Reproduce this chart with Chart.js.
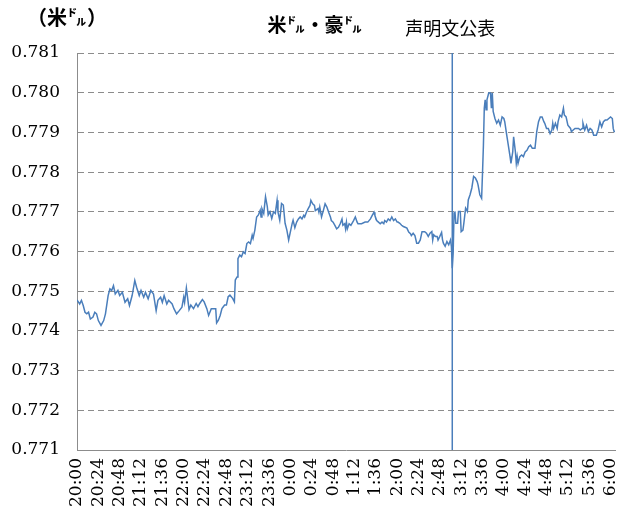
<!DOCTYPE html>
<html>
<head>
<meta charset="utf-8">
<script src="https://cdn.jsdelivr.net/npm/chart.js@4"></script>
<style>
body { margin: 0; background: #fff; }
#wrap { width: 628px; height: 530px; position: relative; }
</style>
</head>
<body>
<div id="wrap"><canvas id="fx"></canvas></div>
<script>
// minutes after 20:00, and USD per AUD
const minutes = [0,3,5,7,9,11,13,15,18,20,22,24,27,30,32,35,37,39,41,43,46,48,51,54,57,59,62,65,67,70,72,75,77,80,83,86,89,91,94,96,98,101,103,107,109,112,115,118,120,121,123,126,128,131,134,136,138,141,143,146,148,151,153,156,157,159,161,163,166,168,170,172,175,177,178,180,181,183,185,187,189,191,193,195,197,198,200,202,204,206,207,208,210,212,214,215,217,219,221,223,225,226,228,230,232,234,236,238,240,242,243,245,247,249,251,253,255,256,258,260,262,263,265,267,268,271,272,273,275,277,279,281,283,285,286,288,290,292,294,296,298,299,301,302,303,304,306,308,311,313,315,316,320,324,327,330,332,334,335,337,339,341,343,345,346,348,350,352,354,356,358,360,361,363,365,367,369,371,373,375,376,378,380,382,384,386,388,391,393,395,397,399,400,401,403,405,406,408,410,411,412,414,416,418,420,421,422,423,424,425,426,428,429,431,432,434,435,437,439,440,442,444,446,448,450,451,453,455,456,457,458,459,460,461,463,465,466,467,468,470,472,474,476,478,480,481,483,485,487,488,490,491,493,494,495,496,498,500,502,504,506,508,510,512,513,515,517,519,521,523,525,526,528,530,532,534,535,536,538,540,541,543,545,547,548,550,552,555,556,558,560,564,566,568,569,571,573,575,577,579,581,583,584,586,588,590,592,594,596,598,600,602,603,604,605];
const rates = [0.77478,0.77468,0.77477,0.77464,0.77447,0.77443,0.77447,0.77430,0.77435,0.77447,0.77443,0.77426,0.77414,0.77426,0.77443,0.77489,0.77506,0.77502,0.77514,0.77493,0.77502,0.77489,0.77497,0.77472,0.77481,0.77464,0.77489,0.77527,0.77510,0.77489,0.77502,0.77485,0.77497,0.77481,0.77502,0.77493,0.77451,0.77477,0.77485,0.77472,0.77489,0.77468,0.77477,0.77468,0.77456,0.77443,0.77451,0.77460,0.77485,0.77472,0.77508,0.77454,0.77465,0.77456,0.77469,0.77461,0.77469,0.77479,0.77473,0.77456,0.77439,0.77456,0.77456,0.77456,0.77420,0.77427,0.77439,0.77456,0.77465,0.77465,0.77486,0.77490,0.77482,0.77473,0.77528,0.77536,0.77582,0.77591,0.77587,0.77599,0.77595,0.77620,0.77624,0.77620,0.77641,0.77633,0.77654,0.77687,0.77692,0.77704,0.77687,0.77708,0.77696,0.77738,0.77713,0.77692,0.77700,0.77683,0.77700,0.77696,0.77729,0.77700,0.77679,0.77721,0.77717,0.77671,0.77654,0.77629,0.77650,0.77671,0.77679,0.77660,0.77674,0.77682,0.77687,0.77682,0.77691,0.77687,0.77699,0.77708,0.77716,0.77729,0.77720,0.77716,0.77703,0.77708,0.77699,0.77712,0.77687,0.77703,0.77720,0.77712,0.77699,0.77687,0.77678,0.77674,0.77666,0.77657,0.77661,0.77670,0.77682,0.77666,0.77670,0.77657,0.77674,0.77657,0.77670,0.77666,0.77678,0.77687,0.77674,0.77670,0.77670,0.77674,0.77674,0.77682,0.77691,0.77699,0.77691,0.77678,0.77674,0.77670,0.77674,0.77670,0.77678,0.77674,0.77682,0.77678,0.77687,0.77678,0.77682,0.77674,0.77674,0.77671,0.77666,0.77663,0.77661,0.77659,0.77649,0.77645,0.77640,0.77646,0.77640,0.77621,0.77621,0.77629,0.77650,0.77650,0.77646,0.77638,0.77646,0.77650,0.77629,0.77642,0.77638,0.77638,0.77629,0.77638,0.77648,0.77630,0.77621,0.77613,0.77625,0.77617,0.77629,0.77613,0.77558,0.77595,0.77697,0.77701,0.77671,0.77671,0.77701,0.77701,0.77650,0.77654,0.77671,0.77709,0.77701,0.77730,0.77743,0.77760,0.77789,0.77785,0.77776,0.77768,0.77743,0.77734,0.77797,0.77865,0.77961,0.77982,0.77957,0.77982,0.77999,0.77999,0.77961,0.77999,0.77953,0.77935,0.77923,0.77931,0.77918,0.77939,0.77935,0.77927,0.77897,0.77868,0.77839,0.77822,0.77851,0.77889,0.77851,0.77822,0.77839,0.77822,0.77839,0.77843,0.77839,0.77851,0.77855,0.77864,0.77868,0.77860,0.77860,0.77860,0.77902,0.77927,0.77939,0.77939,0.77927,0.77923,0.77910,0.77910,0.77897,0.77906,0.77923,0.77910,0.77923,0.77910,0.77927,0.77944,0.77939,0.77961,0.77944,0.77939,0.77918,0.77910,0.77902,0.77906,0.77910,0.77910,0.77906,0.77910,0.77923,0.77906,0.77918,0.77902,0.77910,0.77906,0.77893,0.77893,0.77893,0.77906,0.77927,0.77914,0.77927,0.77931,0.77931,0.77935,0.77939,0.77935,0.77910,0.77902,0.77902];

const tickMinutes = [0,24,48,72,96,120,144,168,192,216,240,264,288,312,336,360,384,408,432,456,480,504,528,552,576,600];
const tickLabels = ['20:00','20:24','20:48','21:12','21:36','22:00','22:24','22:48','23:12','23:36','0:00','0:24','0:48','1:12','1:36','2:00','2:24','2:48','3:12','3:36','4:00','4:24','4:48','5:12','5:36','6:00'];
const releaseMinute = 422;   // 声明文公表
const yMin = 0.771, yMax = 0.781;

const titleText = '米㌦・豪㌦';
const noteText = '声明文公表';
const unitText = '（米㌦）';

const blue = '#4a7ebb';
const gray = '#8c8c8c';

const textPlugin = {
    id: 'texts',
    afterDraw(chart) {
        const ctx = chart.ctx;
        const x = chart.scales.x;
        ctx.save();
        ctx.fillStyle = '#000';
        ctx.textBaseline = 'middle';
        ctx.textAlign = 'center';
        ctx.font = 'bold 20px "Noto Sans CJK JP"';
        ctx.fillText(unitText, 67, 17);
        ctx.font = 'bold 19px "Noto Sans CJK JP"';
        ctx.fillText(titleText, chart.width / 2 + 1, 25);
        ctx.font = '18px "Noto Sans CJK JP"';
        ctx.fillText(noteText, x.getPixelForValue(releaseMinute) - 2, 28);
        ctx.restore();
    }
};

const cfg = {
    type: 'line',
    data: {
        datasets: [{
            data: minutes.map((m, i) => ({x: m, y: rates[i]})),
            borderColor: blue,
            borderWidth: 1.5,
            pointRadius: 0,
            tension: 0
        }, {
            data: [{x: releaseMinute, y: yMax}, {x: releaseMinute, y: yMin}],
            borderColor: blue,
            borderWidth: 1.5,
            pointRadius: 0
        }]
    },
    options: {
        responsive: true,
        maintainAspectRatio: false,
        animation: false,
        layout: {padding: {top: 53, right: 13, left: 0, bottom: 0}},
        plugins: {legend: {display: false}, tooltip: {enabled: false}},
        scales: {
            x: {
                type: 'linear',
                min: 0,
                max: 605,
                afterBuildTicks: s => { s.ticks = tickMinutes.map(v => ({value: v})); },
                afterFit: s => { s.height = 80; s.paddingLeft = 0; s.paddingRight = 0; },
                grid: {display: false, drawTicks: false},
                border: {display: true, color: gray, width: 1},
                ticks: {
                    autoSkip: false,
                    minRotation: 90,
                    maxRotation: 90,
                    padding: 8,
                    color: '#000',
                    font: {family: '"DejaVu Serif"', size: 17},
                    callback: v => tickLabels[tickMinutes.indexOf(v)]
                }
            },
            y: {
                min: yMin,
                max: yMax,
                afterFit: s => { s.width = 77; s.paddingTop = 0; s.paddingBottom = 0; },
                grid: {color: gray, lineWidth: 1, drawTicks: false},
                border: {display: true, color: gray, width: 1, dash: [6, 4]},
                ticks: {
                    stepSize: 0.001,
                    padding: 17,
                    color: '#000',
                    font: {family: '"DejaVu Serif"', size: 17},
                    callback: v => v.toFixed(3)
                }
            }
        }
    },
    plugins: [textPlugin]
};

new Chart(document.getElementById('fx').getContext('2d'), cfg);
</script>
</body>
</html>
